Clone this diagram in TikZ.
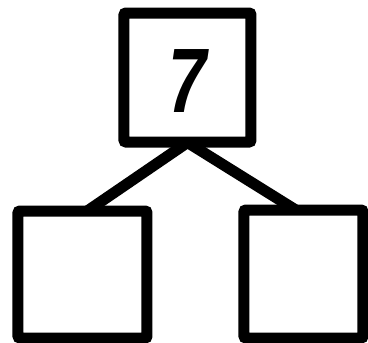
\documentclass[tikz,border=0pt]{standalone}
\usepackage{fontspec}
\setmainfont{Liberation Sans}
\begin{document}
\begin{tikzpicture}[x=1pt,y=-1pt,
  bondbox/.style={draw=black,line width=11pt,rectangle,inner sep=0pt,fill=white,rounded corners=2pt},
  bondline/.style={draw=black,line width=11pt}]
\fill[white] (0,0) rectangle (368,343);
\useasboundingbox (0,0) rectangle (368,343);
\node[bondbox,minimum width=127pt,minimum height=129pt] (top) at (187.5,77.5) {};
\node[bondbox,minimum width=129pt,minimum height=127pt] (left) at (82.5,274.5) {};
\node[bondbox,minimum width=119pt,minimum height=128pt] (right) at (303.5,274) {};
\node[inner sep=0pt] (seven) at (188,81)
  {\scalebox{0.78}[1.04]{\fontsize{88}{88}\selectfont\bfseries\itshape 7}};
\draw[bondline] ([yshift=5pt]top.south) -- ([xshift=5.5pt,yshift=-5pt]left.north);
\draw[bondline] ([yshift=5pt]top.south) -- ([xshift=-8.5pt,yshift=-5pt]right.north);
\end{tikzpicture}
\end{document}
